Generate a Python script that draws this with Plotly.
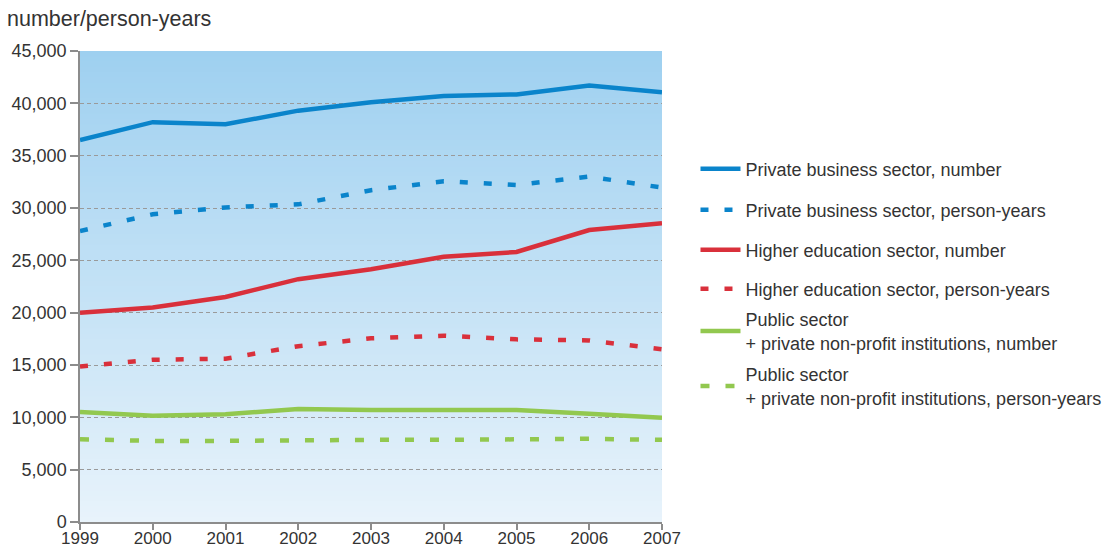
import plotly.graph_objects as go

# Researchers in Finland by sector, headcount and person-years
years = [1999, 2000, 2001, 2002, 2003, 2004, 2005, 2006, 2007]

private_number = [36500, 38200, 38000, 39300, 40100, 40700, 40850, 41700, 41050]
private_py = [27800, 29400, 30050, 30350, 31700, 32550, 32200, 33000, 31950]
higher_number = [20000, 20500, 21500, 23200, 24150, 25350, 25800, 27900, 28550]
higher_py = [14850, 15500, 15600, 16800, 17550, 17800, 17450, 17350, 16500]
public_number = [10500, 10150, 10300, 10800, 10700, 10750, 10700, 10350, 9950]
public_py = [7900, 7750, 7750, 7850, 7850, 7850, 7950, 7950, 7850]

series_names = [
    "Private business sector, number",
    "Private business sector, person-years",
    "Higher education sector, number",
    "Higher education sector, person-years",
    "Public sector<br>+ private non-profit institutions, number",
    "Public sector<br>+ private non-profit institutions, person-years",
]
series_values = [private_number, private_py, higher_number, higher_py,
                 public_number, public_py]

BLUE = "#0a84cb"
RED = "#d9303b"
GREEN = "#92c84f"
styles = [
    (BLUE, "solid"), (BLUE, "8px,16px"),
    (RED, "solid"), (RED, "8px,16px"),
    (GREEN, "solid"), (GREEN, "9px,16px"),
]

# each series gets its own legend box so the entries can be spaced freely
legend_ids = ["legend", "legend2", "legend3", "legend4", "legend5", "legend6"]
legend_y = [0.6922, 0.6175, 0.5446, 0.4736, 0.3971, 0.2969]

fig = go.Figure()
for name, vals, (col, dash), lid in zip(series_names, series_values, styles, legend_ids):
    fig.add_trace(go.Scatter(
        x=years, y=vals, name=name, mode="lines",
        line=dict(color=col, width=4.5, dash=dash),
        legend=lid,
    ))

# vertical gradient in the plotting area, drawn underneath the gridlines;
# each band runs to the top so later bands cover earlier ones without seams
y_max = 45000
n_strips = 90
top_rgb = (158, 208, 240)
bot_rgb = (232, 243, 251)
shapes = []
for i in range(n_strips):
    t = (i + 0.5) / n_strips
    r, g, b = (round(bot_rgb[k] + (top_rgb[k] - bot_rgb[k]) * t) for k in range(3))
    shapes.append(dict(
        type="rect", xref="paper", yref="y", layer="below",
        x0=0, x1=1, y0=y_max * i / n_strips, y1=y_max,
        fillcolor=f"rgb({r},{g},{b})", line=dict(width=0),
    ))

text_font = dict(family="Liberation Sans, Arial, sans-serif", size=18,
                 color="#333333")
xtick_font = dict(family="Liberation Sans, Arial, sans-serif", size=17,
                  color="#333333")

legend_layout = {}
for lid, ly in zip(legend_ids, legend_y):
    legend_layout[lid] = dict(
        x=0.6277, y=ly, xref="container", yref="container",
        xanchor="left", yanchor="middle",
        font=text_font, itemwidth=40, valign="middle",
        bgcolor="rgba(0,0,0,0)", borderwidth=0,
    )

fig.update_layout(
    width=1108, height=549,
    margin=dict(l=80, r=446, t=51, b=27, autoexpand=False),
    paper_bgcolor="white",
    plot_bgcolor="white",
    shapes=shapes,
    showlegend=True,
    **legend_layout,
    xaxis=dict(
        range=[1999, 2007], tickvals=years, ticktext=[str(y) for y in years],
        showgrid=False, zeroline=False, automargin=False,
        showline=True, linecolor="#8c8c8c", linewidth=1.5,
        ticks="outside", ticklen=6, tickcolor="#8c8c8c", tickwidth=1.5,
        tickfont=xtick_font, ticklabelstandoff=-6,
    ),
    yaxis=dict(
        range=[0, y_max], tickvals=list(range(0, 45001, 5000)),
        tickformat=",d", showgrid=True, gridcolor="#9a9a9a", griddash="4px,3px",
        gridwidth=1, zeroline=False, automargin=False,
        showline=True, linecolor="#8c8c8c", linewidth=1.5,
        ticks="outside", ticklen=8, tickcolor="#8c8c8c", tickwidth=1.5,
        tickfont=text_font,
    ),
    annotations=[dict(
        text="number/person-years", xref="paper", yref="paper",
        x=-0.1289, y=1.0, xanchor="left", yanchor="bottom", yshift=18,
        showarrow=False,
        font=dict(family="Liberation Sans, Arial, sans-serif", size=21.5,
                  color="#333333"),
    )],
)

fig.write_html("out.html")
